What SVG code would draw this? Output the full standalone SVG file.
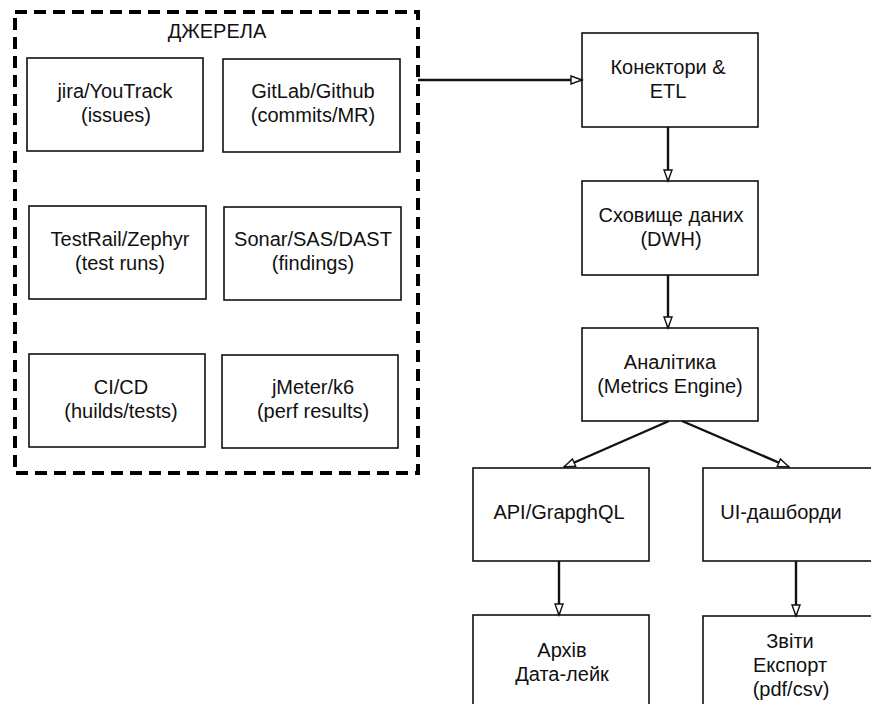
<svg xmlns="http://www.w3.org/2000/svg" width="871" height="704" viewBox="0 0 871 704">
<style>
.box{fill:#fff;stroke:#111;stroke-width:1.6}
.t{font-family:"Liberation Sans",Arial,sans-serif;font-size:20px;fill:#111;text-anchor:middle}
.c{fill:none;stroke:#111;stroke-width:2.4;marker-end:url(#ah)}
</style>
<defs>
<marker id="ah" markerUnits="userSpaceOnUse" markerWidth="14" markerHeight="12" refX="11" refY="5" orient="auto" viewBox="-1 -1 13 12">
<path d="M0,1 L11,5 L0,9 Z" fill="#fff" stroke="#111" stroke-width="1.4"/>
</marker>
</defs>
<rect width="871" height="704" fill="#fff"/>
<g id="sources">
<rect x="15" y="12" width="403" height="461" fill="none" stroke="#000" stroke-width="4" stroke-dasharray="12,7"/>
<text class="t" x="217" y="38">ДЖЕРЕЛА</text>
</g>
<g id="jira">
<rect class="box" x="27" y="58" width="176" height="93"/>
<text class="t" x="115" y="98">jira/YouTrack</text>
<text class="t" x="116" y="122">(issues)</text>
</g>
<g id="gitlab">
<rect class="box" x="223" y="59" width="177" height="93"/>
<text class="t" x="313" y="98">GitLab/Github</text>
<text class="t" x="313" y="122">(commits/MR)</text>
</g>
<g id="testrail">
<rect class="box" x="29" y="206" width="177" height="93"/>
<text class="t" x="120" y="246">TestRail/Zephyr</text>
<text class="t" x="120" y="270">(test runs)</text>
</g>
<g id="sonar">
<rect class="box" x="224" y="207" width="177" height="93"/>
<text class="t" x="313" y="246">Sonar/SAS/DAST</text>
<text class="t" x="313" y="270">(findings)</text>
</g>
<g id="cicd">
<rect class="box" x="29" y="354" width="176" height="93"/>
<text class="t" x="121" y="394">CI/CD</text>
<text class="t" x="121" y="418">(huilds/tests)</text>
</g>
<g id="jmeter">
<rect class="box" x="222" y="355" width="176" height="93"/>
<text class="t" x="313" y="394">jMeter/k6</text>
<text class="t" x="313" y="418">(perf results)</text>
</g>
<g id="etl">
<rect class="box" x="582" y="33" width="176" height="94"/>
<text class="t" x="668" y="74">Конектори &amp;</text>
<text class="t" x="668" y="98">ETL</text>
</g>
<g id="dwh">
<rect class="box" x="582" y="181" width="176" height="94"/>
<text class="t" x="671" y="222">Сховище даних</text>
<text class="t" x="671" y="246">(DWH)</text>
</g>
<g id="analytics">
<rect class="box" x="582" y="328" width="176" height="93"/>
<text class="t" x="670" y="369">Аналітика</text>
<text class="t" x="670" y="393">(Metrics Engine)</text>
</g>
<g id="api">
<rect class="box" x="473" y="468" width="176" height="93"/>
<text class="t" x="559" y="519">API/GrapghQL</text>
</g>
<g id="ui">
<rect class="box" x="703" y="468" width="190" height="93"/>
<text class="t" x="781" y="519">UI-дашборди</text>
</g>
<g id="archive">
<rect class="box" x="473" y="615" width="176" height="100"/>
<text class="t" x="562" y="657">Архів</text>
<text class="t" x="562" y="681">Дата-лейк</text>
</g>
<g id="reports">
<rect class="box" x="703" y="616" width="190" height="100"/>
<text class="t" x="790" y="648">Звіти</text>
<text class="t" x="790" y="672">Експорт</text>
<text class="t" x="791" y="696">(pdf/csv)</text>
</g>
<g id="connectors">
<path class="c" d="M418,80 H582"/>
<path class="c" d="M668,127 V181"/>
<path class="c" d="M668,275 V328"/>
<path class="c" d="M669,421 L564,467"/>
<path class="c" d="M682,421 L789,467"/>
<path class="c" d="M559,561 V615"/>
<path class="c" d="M796,561 V616"/>
</g>
</svg>
